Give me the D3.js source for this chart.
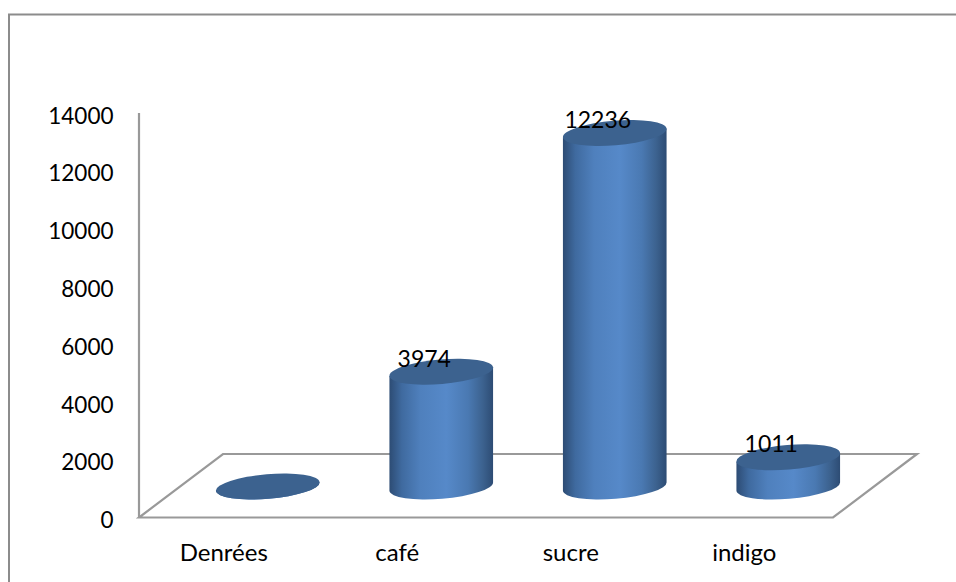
<!DOCTYPE html>
<html>
<head>
<meta charset="utf-8">
<script src="https://cdn.jsdelivr.net/npm/d3@7"></script>
<style>
  html, body { margin: 0; padding: 0; background: #fff; }
  svg { display: block; }
  text { font-family: Lato, "Open Sans", sans-serif; font-size: 22.5px; fill: #000; }
  .xlabel { font-size: 24px; }
  .vlabel { font-size: 23px; }
</style>
</head>
<body>
<div id="chart"></div>
<script>
var categories = ["Denrées", "café", "sucre", "indigo"];
var values = [0, 3974, 12236, 1011];
var valueLabels = ["", "3974", "12236", "1011"];
var yTicks = [0, 2000, 4000, 6000, 8000, 10000, 12000, 14000];

var width = 956, height = 582;
// floor of the fake 3d plot
var depthX = 42, depthY = 31;
var rx = 52, ry = 12.3, tilt = -4.8;

var svg = d3.select("#chart").append("svg")
    .attr("width", width)
    .attr("height", height);

var x = d3.scaleBand().domain(categories).range([139, 833]);
var y = d3.scaleLinear().domain([0, 14000]).range([517.5, 113]);

var defs = svg.append("defs");
var grad = defs.append("linearGradient").attr("id", "side");
grad.append("stop").attr("offset", "0%").attr("stop-color", "#2d4c74");
grad.append("stop").attr("offset", "12%").attr("stop-color", "#3f6a9f");
grad.append("stop").attr("offset", "30%").attr("stop-color", "#4f80bd");
grad.append("stop").attr("offset", "55%").attr("stop-color", "#5689c9");
grad.append("stop").attr("offset", "76%").attr("stop-color", "#4a79b2");
grad.append("stop").attr("offset", "90%").attr("stop-color", "#3c628f");
grad.append("stop").attr("offset", "100%").attr("stop-color", "#2d4c74");

// outer frame, open on the right and the bottom
svg.append("path")
    .attr("d", "M9,582V14.5H956")
    .attr("fill", "none")
    .attr("stroke", "#8c8c8c")
    .attr("stroke-width", 2);

// floor
var y0 = y(0);
var x0 = x.range()[0], x1 = x.range()[1];
var floorPath = d3.path();
floorPath.moveTo(x0, y0);
floorPath.lineTo(x1, y0);
floorPath.lineTo(x1 + 84, y0 - 63.5);
floorPath.lineTo(x0 + 84, y0 - 63.5);
floorPath.closePath();
svg.append("path")
    .attr("d", floorPath.toString())
    .attr("fill", "#fff")
    .attr("stroke", "#999")
    .attr("stroke-width", 2.2);

// value axis
svg.append("line")
    .attr("x1", x0).attr("x2", x0)
    .attr("y1", y(14000)).attr("y2", y0)
    .attr("stroke", "#999")
    .attr("stroke-width", 2.2);

svg.selectAll(".ytick")
    .data(yTicks)
    .enter().append("text")
    .attr("class", "ytick")
    .attr("x", 113.5)
    .attr("y", function (d) { return y(d) + 5; })
    .attr("text-anchor", "end")
    .attr("dominant-baseline", "middle")
    .text(function (d) { return d; });

svg.selectAll(".xlabel")
    .data(categories)
    .enter().append("text")
    .attr("class", "xlabel")
    .attr("x", function (d) { return x(d) + x.bandwidth() / 2 - 2; })
    .attr("y", 555)
    .attr("text-anchor", "middle")
    .attr("dominant-baseline", "middle")
    .text(function (d) { return d; });

// cylinders
var rad = tilt * Math.PI / 180;
var ex = rx * Math.cos(rad), ey = rx * Math.sin(rad);

var bars = svg.selectAll(".bar")
    .data(categories)
    .enter().append("g")
    .attr("class", "bar")
    .attr("transform", function (d) {
        return "translate(" + (x(d) + x.bandwidth() / 2 + depthX) + ",0)";
    });

bars.append("path")
    .attr("d", function (d, i) {
        var top = y(values[i]) - depthY, bottom = y0 - depthY;
        return "M" + (-ex) + "," + (top - ey) +
            "L" + (-ex) + "," + (bottom - ey) +
            "A" + rx + "," + ry + " " + tilt + " 0 0 " + ex + "," + (bottom + ey) +
            "L" + ex + "," + (top + ey) + "Z";
    })
    .attr("fill", "url(#side)");

bars.append("ellipse")
    .attr("rx", rx)
    .attr("ry", ry)
    .attr("transform", function (d, i) {
        return "translate(0," + (y(values[i]) - depthY) + ") rotate(" + tilt + ")";
    })
    .attr("fill", "#3c628f");

// data labels sit above the cylinder tops
svg.selectAll(".vlabel")
    .data(categories)
    .enter().append("text")
    .attr("class", "vlabel")
    .attr("x", function (d) { return x(d) + x.bandwidth() / 2 + 25; })
    .attr("y", function (d, i) { return y(values[i]) - depthY - 11; })
    .attr("text-anchor", "middle")
    .attr("dominant-baseline", "middle")
    .text(function (d, i) { return valueLabels[i]; });
</script>
</body>
</html>
